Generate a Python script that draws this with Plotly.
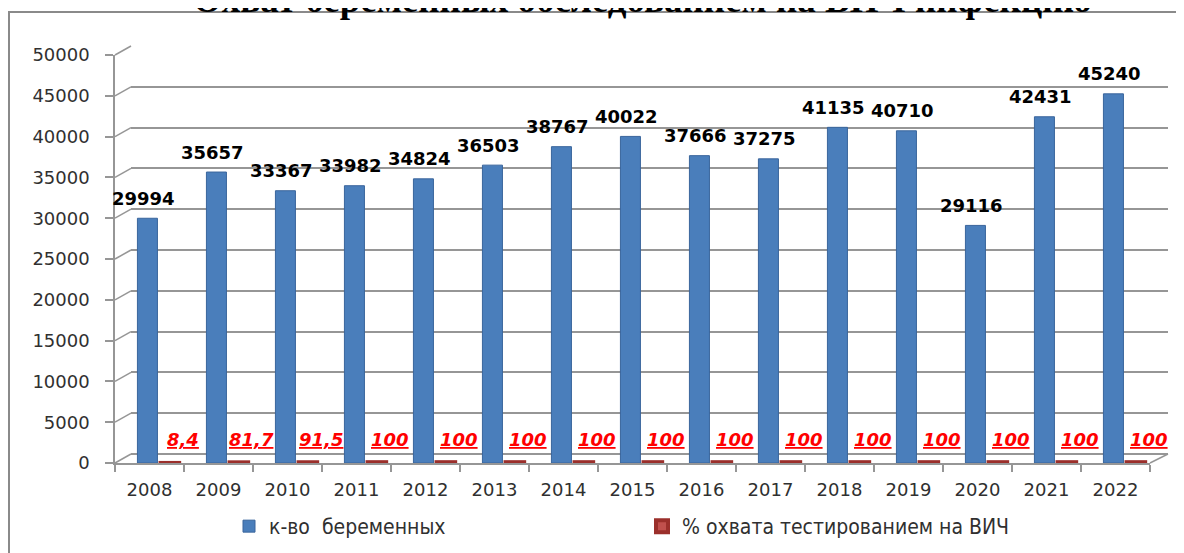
import plotly.graph_objects as go

# ---- data ----
years = ["2008", "2009", "2010", "2011", "2012", "2013", "2014", "2015",
         "2016", "2017", "2018", "2019", "2020", "2021", "2022"]
pregnant = [29994, 35657, 33367, 33982, 34824, 36503, 38767, 40022,
            37666, 37275, 41135, 40710, 29116, 42431, 45240]
coverage = [8.4, 81.7, 91.5, 100, 100, 100, 100, 100,
            100, 100, 100, 100, 100, 100, 100]
y_ticks = [0, 5000, 10000, 15000, 20000, 25000, 30000, 35000, 40000, 45000, 50000]
title_text = "Охват беременных обследованием на ВИЧ инфекцию"
name_pregnant = "к-во\u00a0 беременных"
name_coverage = "% охвата тестированием на ВИЧ"

# the page places the figure 8px from the top-left corner of the window
OFF = 8
W, H = 1184 - OFF, 553 - OFF
def fx(px):
    return (px - OFF) / W
def fy(py):
    return 1 - (py - OFF) / H

YMAX = 50000
FRONT_X0, FRONT_X1, FRONT_Y0, FRONT_Y1 = 115, 1150, 463, 55
BACK_X0, BACK_X1, BACK_Y0, BACK_Y1 = 131, 1168, 454, 46

GRID = "#969696"
TXT = "#303030"
idx = list(range(len(years)))

fig = go.Figure()

fig.add_trace(go.Scatter(x=[None], y=[None], xaxis="x", yaxis="y",
                         showlegend=False, hoverinfo="skip"))

fig.add_trace(go.Bar(
    x=idx, y=pregnant, name=name_pregnant, xaxis="x2", yaxis="y2",
    width=0.29, offset=-0.175,
    marker=dict(color="#4a7ebb", line=dict(color="#3a659c", width=1)),
    hoverinfo="skip",
))
fig.add_trace(go.Bar(
    x=idx, y=coverage, name=name_coverage, xaxis="x2", yaxis="y2",
    width=0.27, offset=0.16,
    marker=dict(color="#c0504d", line=dict(color="#9b2f2b", width=4)),
    hoverinfo="skip",
))

annotations = []
for i, v in zip(idx, pregnant):
    annotations.append(dict(
        x=i, y=v, xref="x2", yref="y2", text=f"<b>{v}</b>", showarrow=False,
        xshift=-6, yshift=20, yanchor="middle",
        font=dict(family="DejaVu Sans", size=18, color="#000000"),
    ))
for i, v in zip(idx, coverage):
    lab = f"{v:g}".replace(".", ",")
    annotations.append(dict(
        x=i, y=v, xref="x2", yref="y2", text=f"<b><i><u>{lab}</u></i></b>",
        showarrow=False, xshift=33, yshift=23, yanchor="middle",
        font=dict(family="DejaVu Sans", size=18, color="#ff0000"),
    ))
annotations.append(dict(
    x=fx(642), y=fy(22), xref="paper", yref="paper", text=f"<b>{title_text}</b>",
    showarrow=False, xanchor="center", yanchor="bottom",
    font=dict(family="Liberation Serif, Times New Roman, serif", size=37, color="#000000"),
))

shapes = []
shapes.append(dict(type="rect", xref="paper", yref="paper",
                   x0=fx(9), x1=fx(1220), y0=fy(12), y1=fy(600),
                   line=dict(color="#8a8a8a", width=2), layer="below"))
for v in y_ticks:
    yf = FRONT_Y0 - (FRONT_Y0 - FRONT_Y1) * v / YMAX
    yb = BACK_Y0 - (BACK_Y0 - BACK_Y1) * v / YMAX
    shapes.append(dict(type="line", xref="paper", yref="paper",
                       x0=fx(FRONT_X0), y0=fy(yf), x1=fx(BACK_X0), y1=fy(yb),
                       line=dict(color=GRID, width=1.5)))
shapes.append(dict(type="line", xref="paper", yref="paper",
                   x0=fx(FRONT_X1), y0=fy(FRONT_Y0), x1=fx(BACK_X1), y1=fy(BACK_Y0),
                   line=dict(color=GRID, width=1.5)))

fig.update_layout(
    width=W, height=H, autosize=False,
    margin=dict(l=0, r=0, t=0, b=0, pad=0, autoexpand=False),
    paper_bgcolor="white", plot_bgcolor="rgba(0,0,0,0)",
    barmode="overlay",
    showlegend=True,
    legend=dict(orientation="h", x=fx(229), y=fy(506), xanchor="left", yanchor="top",
                entrywidthmode="pixels", entrywidth=368, itemwidth=30,
                font=dict(family="Liberation Sans Narrow, DejaVu Sans Condensed, sans-serif",
                          size=21, color=TXT),
                traceorder="normal"),
    xaxis=dict(domain=[fx(BACK_X0), fx(BACK_X1)], range=[0, 1], visible=False,
               fixedrange=True),
    yaxis=dict(domain=[fy(BACK_Y0), fy(BACK_Y1)], range=[0, YMAX], anchor="x",
               tickvals=y_ticks, showticklabels=False, ticks="",
               showgrid=True, gridcolor=GRID, gridwidth=1.5,
               zeroline=True, zerolinecolor=GRID, zerolinewidth=1.5,
               showline=False, automargin=False),
    xaxis2=dict(domain=[fx(FRONT_X0), fx(FRONT_X1)], anchor="y2",
                range=[-0.5, len(years) - 0.5],
                tickvals=idx, ticktext=years,
                showline=True, linecolor=GRID, linewidth=1.5,
                ticks="", showgrid=False, zeroline=False,
                tickfont=dict(family="DejaVu Sans", size=18, color=TXT),
                ticklabelstandoff=10, automargin=False,
                minor=dict(tickvals=[i - 0.5 for i in idx] + [len(years) - 0.5],
                           ticks="outside", ticklen=7, tickcolor=GRID,
                           tickwidth=1.5, showgrid=False)),
    yaxis2=dict(domain=[fy(FRONT_Y0), fy(FRONT_Y1)], range=[0, YMAX], anchor="x2",
                tickvals=y_ticks, ticktext=[str(t) for t in y_ticks],
                showline=True, linecolor=GRID, linewidth=1.5,
                ticks="outside", ticklen=8, tickcolor=GRID, tickwidth=1.5,
                showgrid=False, zeroline=False,
                tickfont=dict(family="DejaVu Sans", size=18, color=TXT),
                ticklabelstandoff=12, automargin=False),
    annotations=annotations,
    shapes=shapes,
)

fig.write_html("out.html")
